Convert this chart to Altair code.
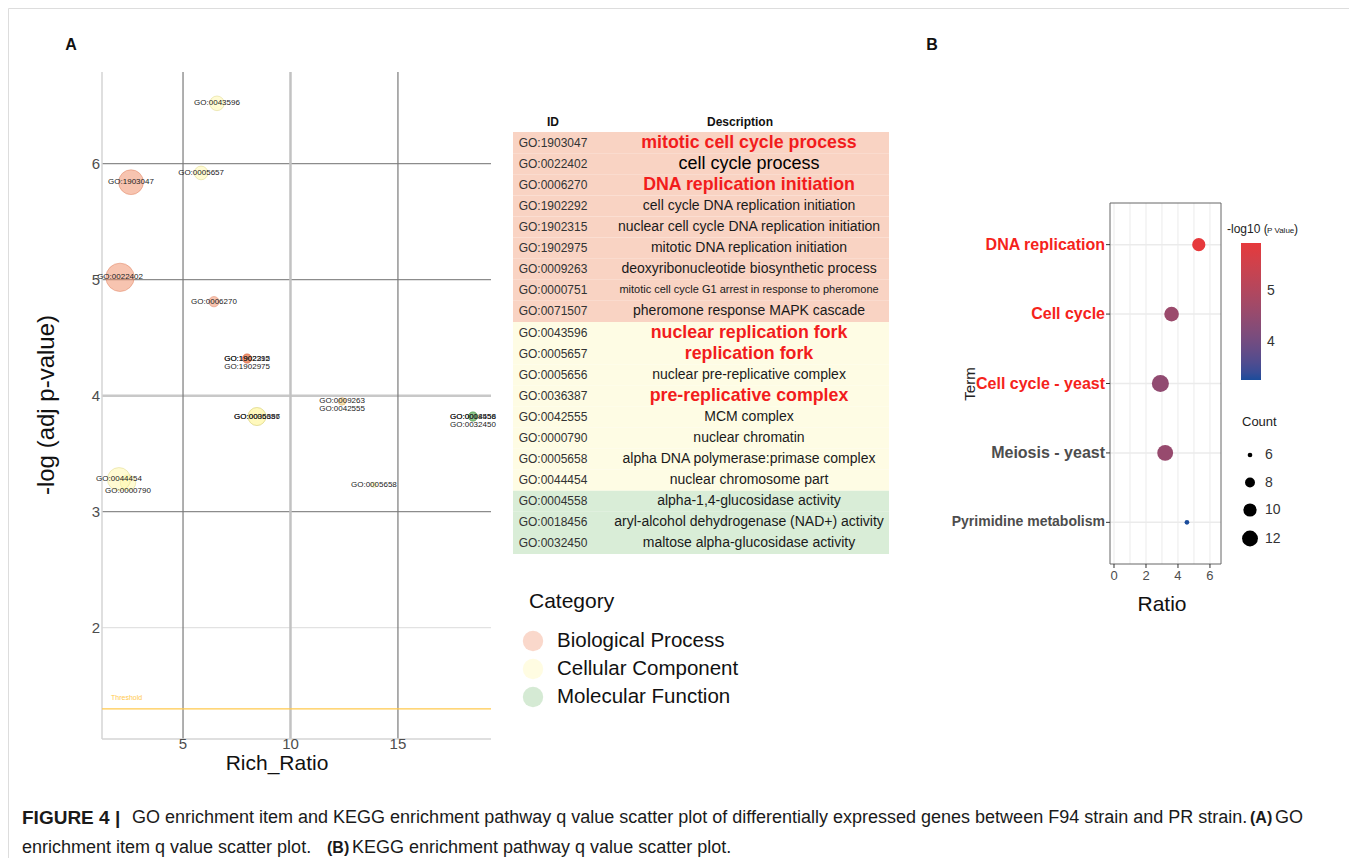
import altair as alt
import pandas as pd

# ---------------------------------------------------------------- data
CATEGORIES = ["Biological Process", "Cellular Component", "Molecular Function"]

# Panel A: GO enrichment bubbles
GO_IDS = ["GO:1903047", "GO:0022402", "GO:0006270", "GO:1902292", "GO:1902315",
          "GO:1902975", "GO:0009263", "GO:0043596", "GO:0005657", "GO:0005656",
          "GO:0036387", "GO:0042555", "GO:0000790", "GO:0005658", "GO:0044454",
          "GO:0004558", "GO:0018456", "GO:0032450"]
GO_CATEGORY = (["Biological Process"] * 7 + ["Cellular Component"] * 8
               + ["Molecular Function"] * 3)
RICH_RATIO = [2.58, 2.07, 6.44, 7.98, 7.98, 7.98, 12.40, 6.58, 5.84, 8.44,
              8.44, 12.40, 2.44, 13.88, 2.02, 18.49, 18.49, 18.49]
NEG_LOG_ADJ_P = [5.84, 5.02, 4.81, 4.32, 4.32, 4.32, 3.95, 6.52, 5.92, 3.82,
                 3.82, 3.95, 3.25, 3.23, 3.28, 3.82, 3.82, 3.82]
GENE_NUMBER = [23, 30, 4, 3, 3, 3, 2, 8, 7, 12, 12, 2, 9, 1, 20, 3, 3, 3]
STACKED_LABELS = ["GO:1902975", "GO:0042555", "GO:0000790", "GO:0032450"]
THRESHOLD = 1.3
X_TICKS_A = [5, 10, 15]
Y_TICKS_A = [2, 3, 4, 5, 6]
XA_DOMAIN = [1.23, 19.33]
YA_DOMAIN = [1.04, 6.79]
V_GRID_DARK = [5, 15]
V_GRID_LIGHT = [10]
H_GRID_DARK = [3, 5, 6]
H_GRID_LIGHT = [4]
H_GRID_FAINT = [2]

# Panel A: table
TABLE_IDS = ["GO:1903047", "GO:0022402", "GO:0006270", "GO:1902292", "GO:1902315",
             "GO:1902975", "GO:0009263", "GO:0000751", "GO:0071507", "GO:0043596",
             "GO:0005657", "GO:0005656", "GO:0036387", "GO:0042555", "GO:0000790",
             "GO:0005658", "GO:0044454", "GO:0004558", "GO:0018456", "GO:0032450"]
TABLE_DESCRIPTIONS = [
    "mitotic cell cycle process", "cell cycle process", "DNA replication initiation",
    "cell cycle DNA replication initiation",
    "nuclear cell cycle DNA replication initiation",
    "mitotic DNA replication initiation", "deoxyribonucleotide biosynthetic process",
    "mitotic cell cycle G1 arrest in response to pheromone",
    "pheromone response MAPK cascade", "nuclear replication fork", "replication fork",
    "nuclear pre-replicative complex", "pre-replicative complex", "MCM complex",
    "nuclear chromatin", "alpha DNA polymerase:primase complex",
    "nuclear chromosome part", "alpha-1,4-glucosidase activity",
    "aryl-alcohol dehydrogenase (NAD+) activity", "maltose alpha-glucosidase activity"]
TABLE_CATEGORY = (["Biological Process"] * 9 + ["Cellular Component"] * 8
                  + ["Molecular Function"] * 3)
HIGHLIGHTED_IDS = ["GO:1903047", "GO:0006270", "GO:0043596", "GO:0005657", "GO:0036387"]
LARGE_IDS = ["GO:0022402"]
SMALL_IDS = ["GO:0000751"]

# Panel B: KEGG enrichment
KEGG_TERMS = ["DNA replication", "Cell cycle", "Cell cycle - yeast",
              "Meiosis - yeast", "Pyrimidine metabolism"]
KEGG_RATIO = [5.30, 3.60, 2.90, 3.20, 4.56]
KEGG_NEG_LOG_P = [5.94, 4.62, 4.45, 4.55, 3.25]
KEGG_COUNT = [10, 11, 13, 12, 6]
KEGG_HIGHLIGHTED = ["DNA replication", "Cell cycle", "Cell cycle - yeast"]
KEGG_SMALL = ["Pyrimidine metabolism"]
X_TICKS_B = [0, 2, 4, 6]
X_GRID_B = [0, 1, 2, 3, 4, 5, 6]
XB_DOMAIN = [-0.25, 6.69]
COUNT_BREAKS = [6, 8, 10, 12]
COLOR_BREAKS = [4, 5]

CAPTION_1 = ["FIGURE 4 |",
             "GO enrichment item and KEGG enrichment pathway q value scatter plot of "
             "differentially expressed genes between F94 strain and PR strain.",
             "(A)", "GO"]
CAPTION_2 = ["enrichment item q value scatter plot.", "(B)",
             "KEGG enrichment pathway q value scatter plot."]

# ---------------------------------------------------------------- styling
FONT = "Liberation Sans"
W, H = 1341, 850
POINT_COLORS = ["#ef8a62", "#fff7a7", "#7fbf7b"]
POINT_EDGES = ["#dd7650", "#d9d27a", "#5fa35b"]
TABLE_FILLS = ["#f9d3c3", "#fefce4", "#d9edd7"]
ONE = pd.DataFrame({"k": [0]})


def label(text, x, y, size, weight="normal", color="#1a1a1a", align="left",
          baseline="middle", angle=0):
    return alt.Chart(ONE).mark_text(
        text=text, align=align, baseline=baseline, fontSize=size,
        fontWeight=weight, color=color, font=FONT, angle=angle
    ).encode(x=alt.value(x), y=alt.value(y))


# ---------------------------------------------------------------- panel A scatter
dfA = pd.DataFrame({"id": GO_IDS, "cat": GO_CATEGORY, "x": RICH_RATIO,
                    "y": NEG_LOG_ADJ_P, "n": GENE_NUMBER})
dfA["stacked"] = dfA["id"].isin(STACKED_LABELS)

XA = alt.Scale(domain=XA_DOMAIN, range=[94, 483], nice=False, zero=False)
YA = alt.Scale(domain=YA_DOMAIN, range=[731, 64], nice=False, zero=False)


def vrules(values, color, width):
    return alt.Chart(pd.DataFrame({"v": values})).mark_rule(
        color=color, strokeWidth=width).encode(
        x=alt.X("v:Q", scale=XA, axis=None),
        y=alt.YDatum(YA_DOMAIN[0], axis=None), y2=alt.Y2Datum(YA_DOMAIN[1]))


def hrules(values, color, width):
    return alt.Chart(pd.DataFrame({"v": values})).mark_rule(
        color=color, strokeWidth=width).encode(
        y=alt.Y("v:Q", scale=YA, axis=None),
        x=alt.XDatum(XA_DOMAIN[0], axis=None), x2=alt.X2Datum(XA_DOMAIN[1]))


# axis lines and tick labels of panel A
dom_left_a = alt.Chart(ONE).mark_rule(color="#d4d4d4", strokeWidth=1.5).encode(
    x=alt.XDatum(XA_DOMAIN[0], axis=None),
    y=alt.YDatum(YA_DOMAIN[0], axis=None), y2=alt.Y2Datum(YA_DOMAIN[1]))
dom_bottom_a = alt.Chart(ONE).mark_rule(color="#d4d4d4", strokeWidth=1.5).encode(
    y=alt.YDatum(YA_DOMAIN[0], axis=None),
    x=alt.XDatum(XA_DOMAIN[0], axis=None), x2=alt.X2Datum(XA_DOMAIN[1]))
ylab_a = alt.Chart(pd.DataFrame({"v": Y_TICKS_A})).mark_text(
    align="right", baseline="middle", dx=-2, fontSize=15, color="#4d4d4d",
    font=FONT).encode(
    y=alt.Y("v:Q", scale=YA, axis=None),
    x=alt.XDatum(XA_DOMAIN[0], axis=None), text="v:Q")
xlab_a = alt.Chart(pd.DataFrame({"v": X_TICKS_A})).mark_text(
    align="center", baseline="top", dy=-2, fontSize=15, color="#4d4d4d",
    font=FONT).encode(
    x=alt.X("v:Q", scale=XA, axis=None),
    y=alt.YDatum(YA_DOMAIN[0], axis=None), text="v:Q")

thr = pd.DataFrame({"t": [THRESHOLD]})
thr_rule = alt.Chart(thr).mark_rule(color="#ffc94d", strokeWidth=1.2).encode(
    y=alt.Y("t:Q", scale=YA, axis=None),
    x=alt.XDatum(XA_DOMAIN[0], axis=None), x2=alt.X2Datum(XA_DOMAIN[1]))
thr_text = alt.Chart(thr).mark_text(
    text="Threshold", align="left", dx=9, dy=-11, fontSize=7, color="#ffc94d",
    font=FONT).encode(y=alt.Y("t:Q", scale=YA, axis=None),
                      x=alt.XDatum(XA_DOMAIN[0], axis=None))

points_a = alt.Chart(dfA).mark_circle(fillOpacity=0.5, strokeOpacity=0.55,
                                      strokeWidth=0.8).encode(
    x=alt.X("x:Q", scale=XA, axis=None),
    y=alt.Y("y:Q", scale=YA, axis=None),
    size=alt.Size("n:Q", scale=alt.Scale(domain=[0, max(GENE_NUMBER)],
                                         range=[0, 804]), legend=None),
    color=alt.Color("cat:N", scale=alt.Scale(domain=CATEGORIES, range=POINT_COLORS),
                    legend=None),
    stroke=alt.Stroke("cat:N", scale=alt.Scale(domain=CATEGORIES, range=POINT_EDGES),
                      legend=None),
)
labels_a0 = alt.Chart(dfA).transform_filter("!datum.stacked").mark_text(
    fontSize=8, color="#222222", font=FONT).encode(
    x=alt.X("x:Q", scale=XA, axis=None), y=alt.Y("y:Q", scale=YA, axis=None),
    text="id:N")
labels_a1 = alt.Chart(dfA).transform_filter("datum.stacked").mark_text(
    fontSize=8, color="#222222", font=FONT, dy=8).encode(
    x=alt.X("x:Q", scale=XA, axis=None), y=alt.Y("y:Q", scale=YA, axis=None),
    text="id:N")

panel_a = alt.layer(
    hrules(H_GRID_FAINT, "#e2e2e2", 1.2),
    hrules(H_GRID_LIGHT, "#c8c8c8", 2.5),
    hrules(H_GRID_DARK, "#8c8c8c", 1.2),
    vrules(V_GRID_LIGHT, "#c2c2c2", 2.5),
    vrules(V_GRID_DARK, "#7a7a7a", 1.2),
    dom_left_a, dom_bottom_a, ylab_a, xlab_a,
    thr_rule, thr_text, points_a, labels_a0, labels_a1,
)

# ---------------------------------------------------------------- table
dfT = pd.DataFrame({"id": TABLE_IDS, "desc": TABLE_DESCRIPTIONS, "cat": TABLE_CATEGORY})
dfT["style"] = [
    "red" if i in HIGHLIGHTED_IDS else "large" if i in LARGE_IDS
    else "small" if i in SMALL_IDS else "normal" for i in TABLE_IDS]
YT = alt.Scale(domain=["header"] + TABLE_IDS, range=[103, 546], type="band",
               paddingInner=0, paddingOuter=0)
yt = alt.Y("id:N", scale=YT, axis=None)

table_bg = alt.Chart(dfT).mark_rect().encode(
    x=alt.value(505), x2=alt.value(881), y=yt,
    color=alt.Color("cat:N", scale=alt.Scale(domain=CATEGORIES, range=TABLE_FILLS),
                    legend=None))
hdr = pd.DataFrame({"id": ["header"]})
table_hdr_id = alt.Chart(hdr).mark_text(text="ID", fontSize=12, fontWeight="bold",
                                        font=FONT, color="#111").encode(
    x=alt.value(545), y=yt)
table_hdr_desc = alt.Chart(hdr).mark_text(text="Description", fontSize=12,
                                          fontWeight="bold", font=FONT,
                                          color="#111").encode(x=alt.value(732), y=yt)
table_ids = alt.Chart(dfT).mark_text(fontSize=12, color="#333333", font=FONT).encode(
    x=alt.value(545), y=yt, text="id:N")


def desc_layer(style, size, weight, color):
    return alt.Chart(dfT).transform_filter(f"datum.style == '{style}'").mark_text(
        fontSize=size, fontWeight=weight, color=color, font=FONT).encode(
        x=alt.value(741), y=yt, text="desc:N")


table = alt.layer(
    table_bg, table_hdr_id, table_hdr_desc, table_ids,
    desc_layer("normal", 14, "normal", "#1a1a1a"),
    desc_layer("small", 11, "normal", "#1a1a1a"),
    desc_layer("large", 18, "normal", "#000000"),
    desc_layer("red", 17.8, "bold", "#f21c1c"),
)

# ---------------------------------------------------------------- category legend
dfL = pd.DataFrame({"cat": CATEGORIES})
YL = alt.Scale(domain=["Category"] + CATEGORIES, range=[605, 689], type="point",
               padding=0)
leg_circles = alt.Chart(dfL).mark_circle(size=415, opacity=0.33).encode(
    x=alt.value(525), y=alt.Y("cat:N", scale=YL, axis=None),
    color=alt.Color("cat:N", scale=alt.Scale(domain=CATEGORIES, range=POINT_COLORS),
                    legend=None))
leg_text = alt.Chart(dfL).mark_text(align="left", fontSize=20.5, color="#111111",
                                    font=FONT).encode(
    x=alt.value(549), y=alt.Y("cat:N", scale=YL, axis=None), text="cat:N")
leg_title = alt.Chart(pd.DataFrame({"cat": ["Category"]})).mark_text(
    align="left", fontSize=21, dy=-11, color="#111111", font=FONT).encode(
    x=alt.value(521), y=alt.Y("cat:N", scale=YL, axis=None), text="cat:N")
cat_legend = alt.layer(leg_circles, leg_text, leg_title)

# ---------------------------------------------------------------- panel B
dfB = pd.DataFrame({"term": KEGG_TERMS, "ratio": KEGG_RATIO, "nlp": KEGG_NEG_LOG_P,
                    "count": KEGG_COUNT})
dfB["idx"] = list(range(len(KEGG_TERMS)))
dfB["style"] = ["small" if t in KEGG_SMALL else "red" if t in KEGG_HIGHLIGHTED
                else "plain" for t in KEGG_TERMS]
YB_DOMAIN = [-0.6, len(KEGG_TERMS) - 1 + 0.6]
XB_RANGE = [1102, 1213]
YB_RANGE = [195, 556]
XB = alt.Scale(domain=XB_DOMAIN, range=XB_RANGE, nice=False, zero=False)
YB = alt.Scale(domain=YB_DOMAIN, range=YB_RANGE, nice=False, zero=False)
# 4-pixel tick length expressed in data units of each scale
TICK_X = 4 * (XB_DOMAIN[1] - XB_DOMAIN[0]) / (XB_RANGE[1] - XB_RANGE[0])
TICK_Y = 4 * (YB_DOMAIN[1] - YB_DOMAIN[0]) / (YB_RANGE[1] - YB_RANGE[0])

gridx_b = alt.Chart(pd.DataFrame({"v": X_GRID_B})).mark_rule(
    color="#ebebeb", strokeWidth=1).encode(
    x=alt.X("v:Q", scale=XB, axis=None),
    y=alt.YDatum(YB_DOMAIN[0], axis=None), y2=alt.Y2Datum(YB_DOMAIN[1]))
gridy_b = alt.Chart(dfB).mark_rule(color="#ebebeb", strokeWidth=1.5).encode(
    y=alt.Y("idx:Q", scale=YB, axis=None),
    x=alt.XDatum(XB_DOMAIN[0], axis=None), x2=alt.X2Datum(XB_DOMAIN[1]))
frame_b = alt.Chart(ONE).mark_rect(fillOpacity=0, stroke="#666666",
                                   strokeWidth=1).encode(
    x=alt.XDatum(XB_DOMAIN[0], axis=None), x2=alt.X2Datum(XB_DOMAIN[1]),
    y=alt.YDatum(YB_DOMAIN[0], axis=None), y2=alt.Y2Datum(YB_DOMAIN[1]))
yticks_b = alt.Chart(dfB).mark_rule(color="#333333", strokeWidth=1).encode(
    y=alt.Y("idx:Q", scale=YB, axis=None),
    x=alt.XDatum(XB_DOMAIN[0] - TICK_X, axis=None), x2=alt.X2Datum(XB_DOMAIN[0]))
xticks_b = alt.Chart(pd.DataFrame({"v": X_TICKS_B})).mark_rule(
    color="#333333", strokeWidth=1).encode(
    x=alt.X("v:Q", scale=XB, axis=None),
    y=alt.YDatum(YB_DOMAIN[1], axis=None), y2=alt.Y2Datum(YB_DOMAIN[1] + TICK_Y))
xlab_b = alt.Chart(pd.DataFrame({"v": X_TICKS_B})).mark_text(
    baseline="top", dy=6, fontSize=13, color="#4d4d4d", font=FONT).encode(
    x=alt.X("v:Q", scale=XB, axis=None),
    y=alt.YDatum(YB_DOMAIN[1], axis=None), text="v:Q")


def term_labels(style, size, color):
    return alt.Chart(dfB).transform_filter(f"datum.style == '{style}'").mark_text(
        align="right", baseline="middle", dx=-5, fontSize=size, fontWeight="bold",
        color=color, font=FONT).encode(
        y=alt.Y("idx:Q", scale=YB, axis=None),
        x=alt.XDatum(XB_DOMAIN[0], axis=None), text="term:N")


points_b = alt.Chart(dfB).mark_circle(opacity=1).encode(
    x=alt.X("ratio:Q", scale=XB, axis=None),
    y=alt.Y("idx:Q", scale=YB, axis=None),
    color=alt.Color("nlp:Q",
                    scale=alt.Scale(domain=[min(KEGG_NEG_LOG_P), max(KEGG_NEG_LOG_P)],
                                    range=["#1b4c9b", "#e6393c"], interpolate="lab"),
                    legend=alt.Legend(orient="none", legendX=1233, legendY=235,
                                      title=None, direction="vertical",
                                      gradientLength=137, gradientThickness=20,
                                      gradientStrokeWidth=0, values=COLOR_BREAKS,
                                      labelFontSize=14, labelColor="#333333",
                                      labelOffset=6, padding=0)),
    size=alt.Size("count:Q",
                  scale=alt.Scale(domain=[min(KEGG_COUNT), max(KEGG_COUNT)],
                                  range=[22, 290]),
                  legend=alt.Legend(orient="none", legendX=1234, legendY=408,
                                    title="Count", titleFontSize=13,
                                    titleFontWeight="normal", titleColor="#222222",
                                    titlePadding=19, values=COUNT_BREAKS,
                                    symbolFillColor="black", symbolStrokeColor="black",
                                    symbolStrokeWidth=0, symbolOpacity=1,
                                    symbolType="circle", labelFontSize=14,
                                    labelColor="#333333", labelOffset=7,
                                    rowPadding=13.5, padding=0)),
)
panel_b = alt.layer(gridx_b, gridy_b, frame_b, yticks_b, xticks_b, xlab_b,
                    term_labels("red", 16, "#f5231b"),
                    term_labels("plain", 16, "#4d4d4d"),
                    term_labels("small", 14, "#4d4d4d"),
                    points_b)

# ---------------------------------------------------------------- annotations
notes = alt.layer(
    label("A", 63, 37, 16, "bold", "#111111", "center"),
    label("B", 924, 37, 16, "bold", "#111111", "center"),
    # axis titles
    label("-log (adj p-value)", 39, 397, 24, color="#111111", align="center",
          angle=270),
    label("Rich_Ratio", 269, 762, 21, color="#111111", align="center",
          baseline="alphabetic"),
    label("Term", 962, 376, 15, color="#222222", align="center", angle=270),
    label("Ratio", 1154, 603, 21, color="#111111", align="center",
          baseline="alphabetic"),
    # colour legend title
    label("-log10 (", 1219, 225, 12, baseline="alphabetic", color="#222222"),
    label("P Value", 1259, 225, 8, baseline="alphabetic", color="#222222"),
    label(")", 1286, 225, 12, baseline="alphabetic", color="#222222"),
    # caption
    label(CAPTION_1[0], 14, 810, 19, "bold"),
    label(CAPTION_1[1], 124, 810, 18),
    label(CAPTION_1[2], 1242, 810, 16, "bold"),
    label(CAPTION_1[3], 1267, 810, 18),
    label(CAPTION_2[0], 14, 840, 18),
    label(CAPTION_2[1], 319, 840, 16, "bold"),
    label(CAPTION_2[2], 344, 840, 18),
)

chart = alt.layer(panel_a, table, cat_legend, panel_b, notes).resolve_scale(
    x="independent", y="independent", color="independent", size="independent"
).resolve_legend(color="independent", size="independent").properties(
    width=W, height=H, padding=0, autosize=alt.AutoSizeParams(type="none")
).configure_view(stroke="#8c8c8c", strokeWidth=2).configure(font=FONT)

chart.save("out.html", embed_options={"renderer": "svg", "actions": False})
